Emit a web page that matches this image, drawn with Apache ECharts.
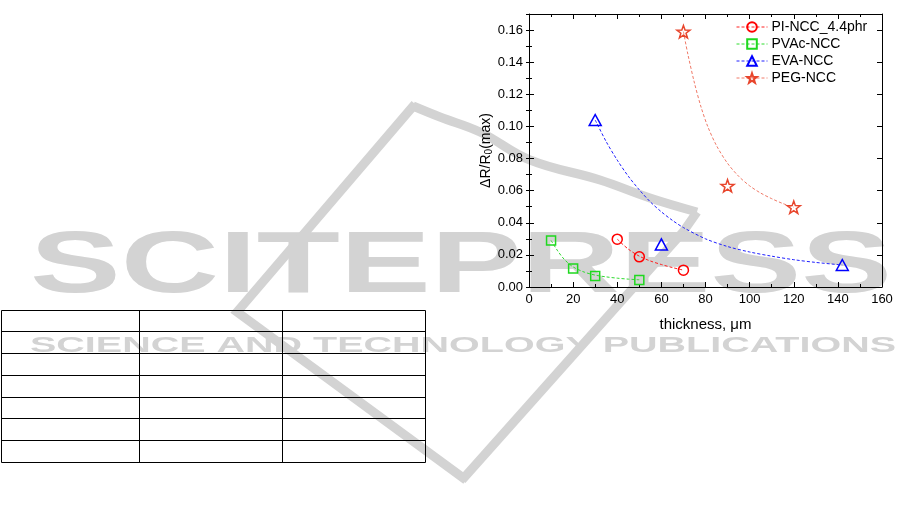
<!DOCTYPE html>
<html><head><meta charset="utf-8">
<script src="https://cdn.jsdelivr.net/npm/echarts@6/dist/echarts.min.js"></script>
<style>html,body{margin:0;padding:0;background:#fff}#c{width:915px;height:531px}</style>
</head><body><div id="c"></div>
<script>
// ---------- data ----------
const seriesNames = ['PI-NCC_4.4phr', 'PVAc-NCC', 'EVA-NCC', 'PEG-NCC'];
const piPoints   = [[40, 0.0298], [50, 0.0188], [70, 0.0105]];
const pvacPoints = [[10, 0.029], [20, 0.0115], [30, 0.0068], [50, 0.0043]];
const evaPoints  = [[30, 0.104], [60, 0.0265], [142, 0.0137]];
const pegPoints  = [[70, 0.159], [90, 0.063], [120, 0.0497]];
// dashed fit curves
const piFit   = [[40, 0.0298], [45, 0.0236], [50, 0.0192], [55, 0.0162], [60, 0.0140], [65, 0.0121], [70, 0.0105]];
const pvacFit = [[10, 0.029], [13, 0.0225], [16, 0.0172], [20, 0.0125], [25, 0.0093], [30, 0.0074], [35, 0.0063], [40, 0.0055], [45, 0.0049], [50, 0.0045]];
const evaFit  = [[30, 0.104], [35, 0.0905], [40, 0.079], [45, 0.069], [50, 0.0605], [55, 0.053], [60, 0.0468], [65, 0.0415], [70, 0.037], [80, 0.030], [90, 0.0252], [100, 0.0218], [110, 0.0192], [120, 0.017], [130, 0.0153], [142, 0.0137]];
const pegFit  = [[70, 0.159], [72, 0.145], [75, 0.127], [78, 0.112], [81, 0.100], [85, 0.088], [90, 0.077], [95, 0.069], [100, 0.063], [105, 0.0585], [110, 0.055], [115, 0.052], [120, 0.0497]];
const xTickLabels = [0, 20, 40, 60, 80, 100, 120, 140, 160];
const yTickLabels = ['0.00', '0.02', '0.04', '0.06', '0.08', '0.10', '0.12', '0.14', '0.16'];
const watermarkTitle = 'SCITEPRESS';
const watermarkSub = 'SCIENCE AND TECHNOLOGY PUBLICATIONS';

// ---------- styling ----------
const FONT = '"Liberation Sans", Arial, sans-serif';
const colors = ['#ff0000', '#1fd81f', '#0000ff', '#e8452c'];
const lineColors = ['#ff2020', '#2fdc2f', '#2020ff', '#f07a68'];
const starPath = 'path://M0,-10L2.35,-3.24L9.51,-3.09L3.8,1.24L5.88,8.09L0,4L-5.88,8.09L-3.8,1.24L-9.51,-3.09L-2.35,-3.24Z';
const symbols = ['circle', 'rect', 'triangle', starPath];
const symbolSizes = [10, 9, [12, 11], 13];
const pointSets = [piPoints, pvacPoints, evaPoints, pegPoints];
const fitSets = [piFit, pvacFit, evaFit, pegFit];
const dash = [3, 2];

const series = [];
fitSets.forEach((d, i) => {
  series.push({
    name: seriesNames[i] + ' fit', type: 'line', data: d, smooth: 0.3,
    showSymbol: false, symbol: 'none', silent: true, z: 2,
    lineStyle: { color: lineColors[i], width: 1, type: dash }
  });
});
pointSets.forEach((d, i) => {
  series.push({
    name: seriesNames[i], type: 'line', data: d, color: colors[i],
    symbol: symbols[i], symbolSize: symbolSizes[i], symbolKeepAspect: true, showSymbol: true,
    lineStyle: { opacity: 0, color: lineColors[i] },
    itemStyle: { color: 'rgba(255,255,255,0)', borderColor: colors[i], borderWidth: 1.5 },
    z: 5
  });
});

// measure watermark text to stretch it
const mc = document.createElement('canvas').getContext('2d');
function widthOf(txt, font) { mc.font = font; return mc.measureText(txt).width; }
const wmFont1 = 'bold 88px "Liberation Sans"';
const wmFont2 = 'bold 22px "Liberation Sans"';
const wmScale1 = 862 / widthOf(watermarkTitle, wmFont1);
const wmScale2 = 866 / widthOf(watermarkSub, wmFont2);
const WM = '#d3d3d3';

const graphics = [
  { type: 'text', x: 30, y: 268, scaleX: wmScale1, z: -20,
    style: { text: watermarkTitle, font: wmFont1, fill: WM, verticalAlign: 'middle', align: 'left' } },
  { type: 'text', x: 30, y: 346, scaleX: wmScale2, z: -20,
    style: { text: watermarkSub, font: wmFont2, fill: WM, verticalAlign: 'middle', align: 'left' } },
  { type: 'polyline', z: -20, shape: { points: [[415, 104], [237, 312], [466, 480]] },
    style: { stroke: WM, lineWidth: 9, fill: null } },
  { type: 'polyline', z: -20, shape: { smooth: 0.4, points: [[413, 106], [440, 117], [480, 132], [530, 160], [600, 180], [650, 198], [697, 212]] },
    style: { stroke: WM, lineWidth: 9, fill: null } },
  { type: 'polyline', z: -20, shape: { points: [[697, 212], [683, 232], [462, 480]] },
    style: { stroke: WM, lineWidth: 9, fill: null } }
];
// table frame on the left
const tblX = [1.5, 139.5, 282.5, 425.5];
const tblY = [310.5, 331.5, 353.5, 375.5, 397.5, 418.5, 440.5, 462.5];
tblX.forEach(x => graphics.push({ type: 'line', z: -5, shape: { x1: x, y1: tblY[0], x2: x, y2: tblY[tblY.length - 1] }, style: { stroke: '#000', lineWidth: 1 } }));
tblY.forEach(y => graphics.push({ type: 'line', z: -5, shape: { x1: tblX[0], y1: y, x2: tblX[tblX.length - 1], y2: y }, style: { stroke: '#000', lineWidth: 1 } }));

const axisLineStyle = { show: true, onZero: false, lineStyle: { color: '#000', width: 1 } };
const labelStyle = { color: '#000', fontSize: 13, fontFamily: FONT };

const option = {
  animation: false,
  backgroundColor: '#fff',
  graphic: { elements: graphics },
  grid: { left: 529, right: 33, top: 14, bottom: 244, containLabel: false },
  legend: {
    orient: 'vertical', left: 736, top: 20, padding: 0, itemWidth: 31, itemHeight: 12, itemGap: 3,
    textStyle: { color: '#000', fontSize: 14, fontFamily: FONT, lineHeight: 14, padding: [0, 0, 0, -1] },
    data: seriesNames.map((n, i) => ({ name: n, lineStyle: { opacity: 1, type: dash, width: 1, color: lineColors[i] } })),
    selectedMode: false
  },
  xAxis: [
    { type: 'value', min: 0, max: 160, interval: 20, position: 'bottom',
      axisLine: axisLineStyle, splitLine: { show: false },
      axisTick: { inside: true, length: 5, lineStyle: { color: '#000' } },
      minorTick: { show: true, splitNumber: 2, length: 3, lineStyle: { color: '#000' } },
      axisLabel: Object.assign({ margin: 6, formatter: v => xTickLabels.includes(v) ? String(v) : '' }, labelStyle),
      name: 'thickness, μm', nameLocation: 'middle', nameGap: 30,
      nameTextStyle: { color: '#000', fontSize: 15, fontFamily: FONT } },
    { type: 'value', min: 0, max: 160, interval: 20, position: 'top',
      axisLine: axisLineStyle, splitLine: { show: false },
      axisTick: { inside: true, length: 5, lineStyle: { color: '#000' } },
      minorTick: { show: true, splitNumber: 2, length: 3, lineStyle: { color: '#000' } },
      axisLabel: { show: false } }
  ],
  yAxis: [
    { type: 'value', min: 0, max: 0.17, interval: 0.02, position: 'left',
      axisLine: axisLineStyle, splitLine: { show: false },
      axisTick: { inside: true, length: 5, lineStyle: { color: '#000' } },
      axisLabel: Object.assign({ margin: 6, formatter: v => {
        const s = v.toFixed(2); return yTickLabels.includes(s) && Math.abs(v - 0.17) > 1e-9 ? s : ''; } }, labelStyle),
      name: '{a|ΔR/R}{s|0}{a|(max)}', nameLocation: 'middle', nameGap: 28, nameRotate: 90,
      nameTextStyle: { color: '#000', fontFamily: FONT, rich: {
        a: { fontSize: 14, fontFamily: FONT, color: '#000', lineHeight: 16 },
        s: { fontSize: 10, fontFamily: FONT, color: '#000', lineHeight: 16, verticalAlign: 'bottom', padding: [6, 0, 0, 0] } } } },
    { type: 'value', min: 0, max: 0.17, interval: 0.01, position: 'left',
      axisLine: { show: false }, splitLine: { show: false },
      axisTick: { inside: true, length: 3, lineStyle: { color: '#000' } }, axisLabel: { show: false } },
    { type: 'value', min: 0, max: 0.17, interval: 0.02, position: 'right',
      axisLine: axisLineStyle, splitLine: { show: false },
      axisTick: { inside: true, length: 5, lineStyle: { color: '#000' } }, axisLabel: { show: false } },
    { type: 'value', min: 0, max: 0.17, interval: 0.01, position: 'right',
      axisLine: { show: false }, splitLine: { show: false },
      axisTick: { inside: true, length: 3, lineStyle: { color: '#000' } }, axisLabel: { show: false } }
  ],
  series: series
};
const chart = echarts.init(document.getElementById('c'), null, { renderer: 'canvas' });
chart.setOption(option);
</script>
</body></html>
